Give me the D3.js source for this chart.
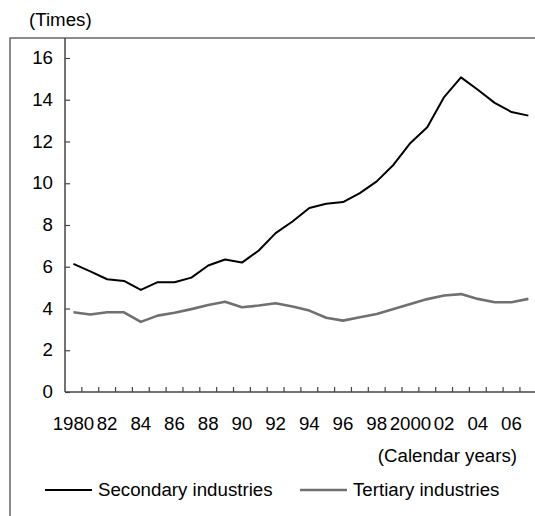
<!DOCTYPE html>
<html>
<head>
<meta charset="utf-8">
<script src="https://cdn.jsdelivr.net/npm/d3@7"></script>
<style>
  body { margin: 0; background: #fff; }
  svg { display: block; }
</style>
</head>
<body>
<svg id="chart" width="535" height="516"></svg>
<script>
// Calendar years 1980 - 2007
const years = d3.range(1980, 2008);

// Secondary industries (times)
const secondary = [6.14, 5.78, 5.40, 5.32, 4.89, 5.26, 5.26, 5.48, 6.06, 6.35,
    6.20, 6.78, 7.61, 8.17, 8.81, 9.02, 9.10, 9.53, 10.09, 10.89,
    11.93, 12.68, 14.13, 15.07, 14.48, 13.85, 13.41, 13.24];

// Tertiary industries (times)
const tertiary = [3.82, 3.71, 3.82, 3.82, 3.36, 3.66, 3.80, 3.97, 4.17, 4.32,
    4.06, 4.14, 4.25, 4.10, 3.90, 3.56, 3.42, 3.58, 3.74, 3.98,
    4.22, 4.45, 4.62, 4.69, 4.46, 4.30, 4.30, 4.46];

const yTicks = [0, 2, 4, 6, 8, 10, 12, 14, 16];
const xLabelYears = d3.range(1980, 2008, 2);

const FONT = 'Liberation Sans, Arial, Helvetica, sans-serif';
const FONT_SIZE = '17.8px';
const AXIS_COLOR = '#444444';
const STRETCH = 1.05; // source type is slightly wider than Arial

const svg = d3.select('#chart');

const plotLeft = 65, plotBottom = 392, plotTop = 58;
const bandW = 16.85;

const x = d3.scaleBand()
    .domain(years)
    .range([plotLeft, plotLeft + years.length * bandW]);

const y = d3.scaleLinear()
    .domain([0, 16])
    .range([plotBottom, plotTop]);

// Helper: text placed at (tx, ty) and stretched horizontally
function addText(parent, tx, ty, str, anchor = 'start') {
    return parent.append('text')
        .attr('transform', `translate(${tx},${ty}) scale(${STRETCH},1)`)
        .attr('text-anchor', anchor)
        .attr('font-family', FONT)
        .attr('font-size', FONT_SIZE)
        .attr('fill', '#000')
        .text(str);
}

// Outer frame (left and top edges only are visible)
svg.append('path')
    .attr('d', 'M10,516 V38 H535')
    .attr('fill', 'none')
    .attr('stroke', '#666666')
    .attr('stroke-width', 1.5);

// Y axis
const yAxis = d3.axisRight(y)
    .tickValues(yTicks)
    .tickSize(5)
    .tickFormat(d3.format('d'));

const yG = svg.append('g')
    .attr('transform', `translate(${plotLeft},0)`)
    .call(yAxis);
yG.select('.domain').remove();
yG.selectAll('.tick line')
    .attr('stroke', AXIS_COLOR)
    .attr('stroke-width', 1.2);
yG.selectAll('.tick text')
    .attr('x', 0)
    .attr('transform', `translate(-12,0) scale(${STRETCH},1)`)
    .attr('text-anchor', 'end')
    .attr('fill', '#000')
    .attr('font-family', FONT)
    .attr('font-size', FONT_SIZE);

svg.append('line')
    .attr('x1', plotLeft).attr('x2', plotLeft)
    .attr('y1', 38).attr('y2', plotBottom)
    .attr('stroke', AXIS_COLOR)
    .attr('stroke-width', 1.5);

// X axis: ticks at band boundaries, pointing up
const boundaries = years.slice(1).map(d => x(d));
svg.append('g')
    .selectAll('line')
    .data(boundaries)
    .join('line')
    .attr('x1', d => d).attr('x2', d => d)
    .attr('y1', plotBottom).attr('y2', plotBottom - 5)
    .attr('stroke', AXIS_COLOR)
    .attr('stroke-width', 1.2);

svg.append('line')
    .attr('x1', plotLeft).attr('x2', 535)
    .attr('y1', plotBottom).attr('y2', plotBottom)
    .attr('stroke', AXIS_COLOR)
    .attr('stroke-width', 1.5);

const xLabels = svg.append('g');
xLabelYears.forEach(d => {
    const label = (d === 1980 || d === 2000) ? String(d) : String(d % 100).padStart(2, '0');
    addText(xLabels, x(d) + x.bandwidth() / 2, 430, label, 'middle');
});

// Lines
const line = values => d3.line()
    .x((d, i) => x(years[i]) + x.bandwidth() / 2)
    .y(d => y(d))(values);

svg.append('path')
    .attr('d', line(tertiary))
    .attr('fill', 'none')
    .attr('stroke', '#707070')
    .attr('stroke-width', 2.6)
    .attr('stroke-linejoin', 'round');

svg.append('path')
    .attr('d', line(secondary))
    .attr('fill', 'none')
    .attr('stroke', '#000000')
    .attr('stroke-width', 2)
    .attr('stroke-linejoin', 'round');

// Axis titles
addText(svg, 29, 26, '(Times)');
addText(svg, 517, 462, '(Calendar years)', 'end');

// Legend
const legend = [
    {label: 'Secondary industries', color: '#000000', width: 2, x: 45},
    {label: 'Tertiary industries', color: '#707070', width: 2.6, x: 300}
];

legend.forEach(d => {
    const g = svg.append('g')
        .attr('transform', `translate(${d.x},490)`);
    g.append('line')
        .attr('x1', 0).attr('x2', 47)
        .attr('y1', 0).attr('y2', 0)
        .attr('stroke', d.color)
        .attr('stroke-width', d.width);
    addText(g, 53, 6, d.label);
});
</script>
</body>
</html>
